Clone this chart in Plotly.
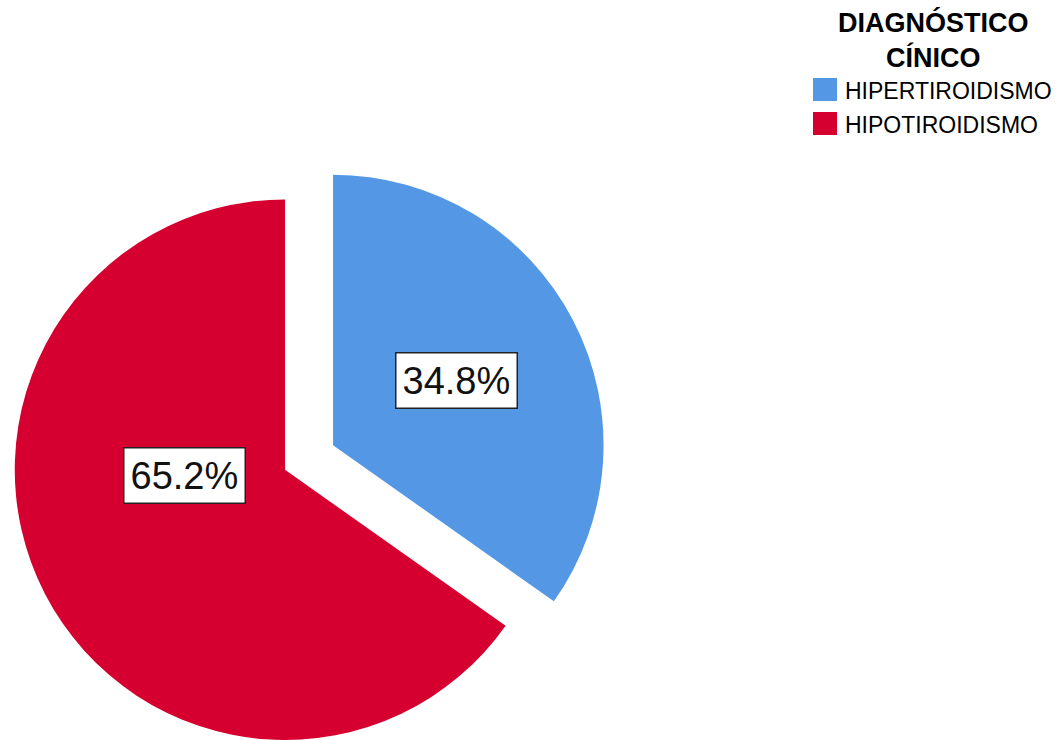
import math
import plotly.graph_objects as go

# Diagnóstico clínico: share of patients per diagnosis (%)
categories = ["HIPERTIROIDISMO", "HIPOTIROIDISMO"]
percentages = [34.8, 65.2]
colors = ["#5497e5", "#d5002f"]
legend_title = "DIAGNÓSTICO<br>CÍNICO"

W, H = 1060, 740
FONT = "Liberation Sans, Arial, sans-serif"

# Pie geometry in pixels
R = 270.5                  # radius of each slice
CX, CY = 285.0, 470.0      # centre of the main (red) slice
PULL = 0.2                 # exploded distance of the first slice, as a fraction of R

# Direction of the first slice's middle angle (clockwise from 12 o'clock)
mid_deg = percentages[0] / sum(percentages) * 360.0 / 2.0
dx = math.sin(math.radians(mid_deg)) * PULL * R
dy = -math.cos(math.radians(mid_deg)) * PULL * R


def domain(cx, cy, r):
    x0, x1 = (cx - r) / W, (cx + r) / W
    y0, y1 = 1 - (cy + r) / H, 1 - (cy - r) / H
    return dict(x=[max(0, x0), min(1, x1)], y=[max(0, y0), min(1, y1)])


TRANSPARENT = "rgba(0,0,0,0)"
fig = go.Figure()

# One pie per visible slice so the exploded slice keeps the full radius
for k, (cx, cy) in enumerate([(CX + dx, CY + dy), (CX, CY)]):
    slice_colors = [c if i == k else TRANSPARENT for i, c in enumerate(colors)]
    fig.add_trace(go.Pie(
        labels=categories,
        values=percentages,
        sort=False,
        direction="clockwise",
        rotation=0,
        marker=dict(colors=slice_colors, line=dict(width=0)),
        textinfo="none",
        showlegend=False,
        hoverinfo="label+percent",
        domain=domain(cx, cy, R),
    ))

# Percentage labels in white boxes
label_pos = [(456.5, 380.5), (184.0, 475.0)]
for v, (px, py) in zip(percentages, label_pos):
    fig.add_annotation(
        x=px / W, y=1 - py / H, xref="paper", yref="paper",
        text=f"{v:.1f}%", showarrow=False,
        font=dict(family=FONT, size=38, color="#111111"),
        bgcolor="white", bordercolor="#222222", borderwidth=1.5, borderpad=6,
        xanchor="center", yanchor="middle",
    )

# Legend: title and colour swatches
fig.add_annotation(
    x=933 / W, y=1 - 40 / H, xref="paper", yref="paper",
    text=f"<b>{legend_title}</b>", showarrow=False, align="center",
    font=dict(family=FONT, size=27, color="black"),
    xanchor="center", yanchor="middle",
)
for i, (name, col) in enumerate(zip(categories, colors)):
    top = 78 + i * 34
    fig.add_shape(
        type="rect", xref="paper", yref="paper",
        x0=813 / W, x1=837 / W, y0=1 - (top + 23) / H, y1=1 - top / H,
        fillcolor=col, line=dict(width=0),
    )
    fig.add_annotation(
        x=843 / W, y=1 - (top + 12.5) / H, xref="paper", yref="paper",
        text=name, showarrow=False,
        font=dict(family=FONT, size=23, color="black"),
        xanchor="left", yanchor="middle",
    )

fig.update_layout(
    width=W, height=H,
    margin=dict(l=0, r=0, t=0, b=0),
    paper_bgcolor="white", plot_bgcolor="white",
    showlegend=False,
)

fig.write_html("out.html")
